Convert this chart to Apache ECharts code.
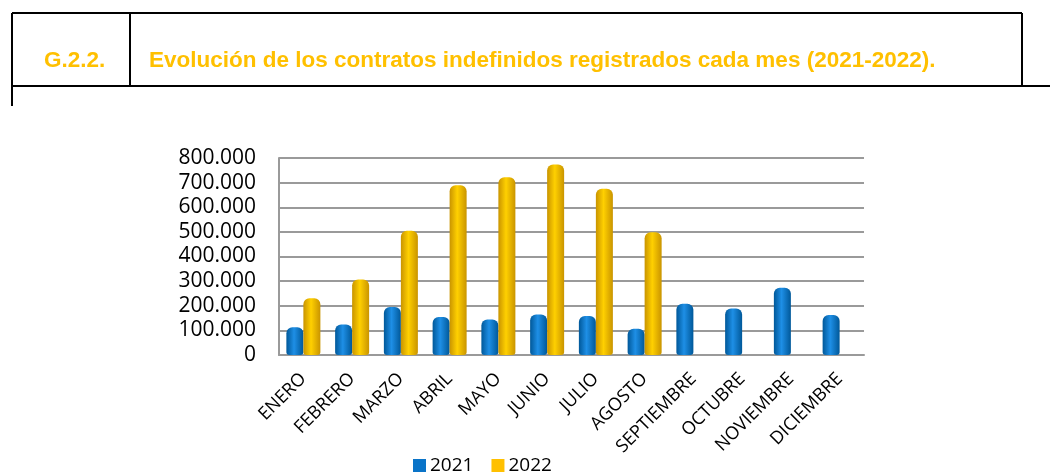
<html><head>
<meta charset="UTF-8">
<title>G.2.2. Contratos indefinidos</title>
<style>
  body { margin: 0; background: #fff; }
  #chart { width: 1050px; height: 473px; }
</style>
</head>
<body>
<div id="chart"></div>
<script src="https://cdn.jsdelivr.net/npm/echarts@6/dist/echarts.min.js"></script>
<script>
  // datos
  const meses = ['ENERO', 'FEBRERO', 'MARZO', 'ABRIL', 'MAYO', 'JUNIO', 'JULIO',
                 'AGOSTO', 'SEPTIEMBRE', 'OCTUBRE', 'NOVIEMBRE', 'DICIEMBRE'];
  const datos2021 = [113000, 124000, 195000, 154000, 144000, 164000, 158000,
                     107000, 208000, 189000, 273000, 162000];
  const datos2022 = [230000, 307000, 505000, 689000, 722000, 774000, 675000,
                     498000, null, null, null, null];
  const ejeY = { min: 0, max: 800000, interval: 100000 };

  const chart = echarts.init(document.getElementById('chart'));

  function miles(v) {
    return String(v).replace(/\B(?=(\d{3})+(?!\d))/g, '.');
  }

  function cilindro(borde, centro) {
    return new echarts.graphic.LinearGradient(0, 0, 1, 0, [
      { offset: 0, color: borde },
      { offset: 0.45, color: centro },
      { offset: 1, color: borde }
    ]);
  }

  const tituloEstilo = { color: '#FFC000', fontSize: 22.5, fontWeight: 'bold', fontFamily: 'Liberation Sans' };

  const option = {
    animation: false,
    title: [
      { text: 'G.2.2.', left: 39, top: 44, textStyle: tituloEstilo },
      {
        text: 'Evolución de los contratos indefinidos registrados cada mes (2021-2022).',
        left: 144, top: 44,
        textStyle: tituloEstilo
      }
    ],
    graphic: [
      { type: 'line', shape: { x1: 12, y1: 13, x2: 1022, y2: 13 }, style: { stroke: '#000', lineWidth: 2 } },
      { type: 'line', shape: { x1: 12, y1: 86, x2: 1050, y2: 86 }, style: { stroke: '#000', lineWidth: 2 } },
      { type: 'line', shape: { x1: 12, y1: 13, x2: 12, y2: 106 }, style: { stroke: '#000', lineWidth: 2 } },
      { type: 'line', shape: { x1: 130, y1: 13, x2: 130, y2: 86 }, style: { stroke: '#000', lineWidth: 2 } },
      { type: 'line', shape: { x1: 1022, y1: 13, x2: 1022, y2: 86 }, style: { stroke: '#000', lineWidth: 2 } }
    ],
    legend: {
      data: [
        { name: '2021', itemStyle: { color: '#0a74c8' } },
        { name: '2022', itemStyle: { color: '#ffc000' } }
      ],
      top: 451,
      left: 408,
      itemWidth: 13,
      itemHeight: 13,
      itemGap: 18,
      icon: 'rect',
      textStyle: { fontSize: 19, color: '#000', fontFamily: 'Open Sans', padding: [0, 0, 0, -1] }
    },
    grid: { left: 279, right: 186, top: 158, bottom: 118 },
    xAxis: {
      type: 'category',
      data: meses,
      axisLine: { lineStyle: { color: '#9a9a9a', width: 2 } },
      axisTick: { alignWithLabel: true, lineStyle: { color: '#9a9a9a', width: 2 }, length: 6 },
      axisLabel: {
        rotate: 45,
        interval: 0,
        color: '#000',
        fontSize: 18,
        fontFamily: 'Open Sans',
        margin: 21
      }
    },
    yAxis: {
      type: 'value',
      min: ejeY.min,
      max: ejeY.max,
      interval: ejeY.interval,
      axisLine: { show: true, lineStyle: { color: '#9a9a9a', width: 2 } },
      axisTick: { show: false },
      splitLine: { lineStyle: { color: '#9a9a9a', width: 2 } },
      axisLabel: {
        formatter: miles,
        color: '#000',
        fontSize: 21,
        fontFamily: 'Open Sans',
        margin: 23
      }
    },
    series: [
      {
        name: '2021',
        type: 'bar',
        data: datos2021,
        barWidth: 17,
        barGap: '0%',
        itemStyle: { color: cilindro('#005899', '#1e8fe6'), borderRadius: [6, 6, 3, 3] }
      },
      {
        name: '2022',
        type: 'bar',
        data: datos2022,
        barWidth: 17,
        itemStyle: { color: cilindro('#c99400', '#ffd000'), borderRadius: [6, 6, 3, 3] }
      }
    ]
  };

  chart.setOption(option);
</script>
</body></html>
